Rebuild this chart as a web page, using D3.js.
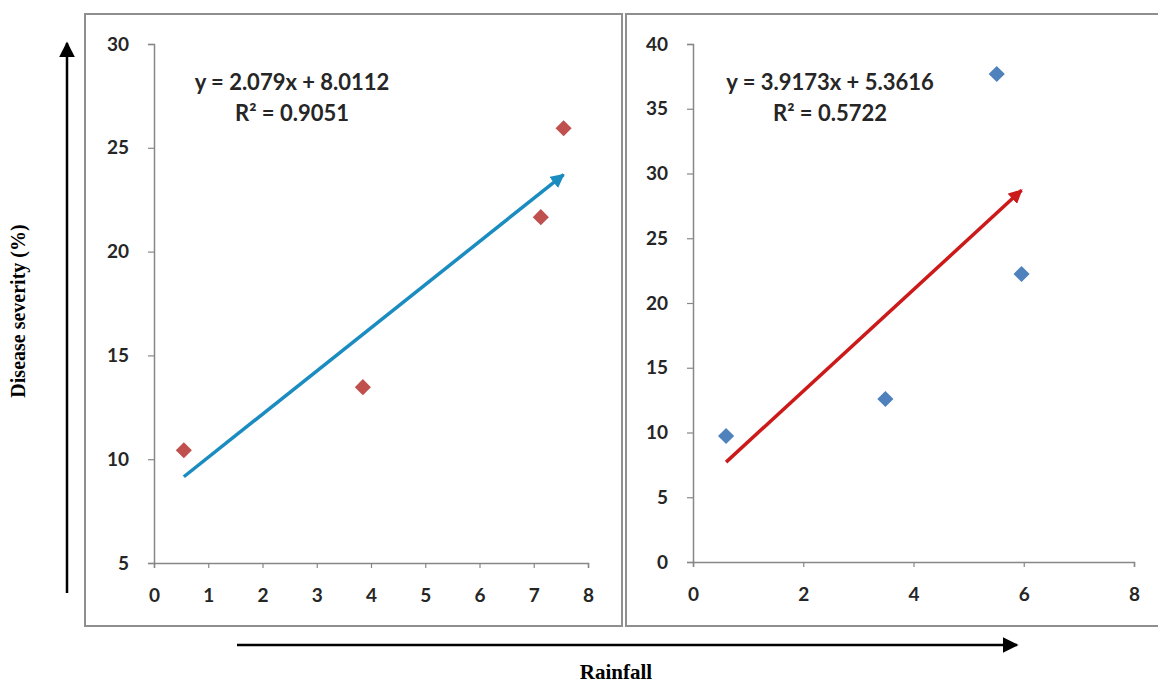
<!DOCTYPE html>
<html>
<head>
<meta charset="utf-8">
<script src="https://cdn.jsdelivr.net/npm/d3@7"></script>
<style>
  body { margin: 0; background: #fff; }
  .tick text { font-family: Lato, "Open Sans", sans-serif; font-weight: 700; font-size: 19px; fill: #262626; }
  .eq { font-family: Lato, "Open Sans", sans-serif; font-weight: 700; font-size: 22px; fill: #262626; }
  .ttl { font-family: "Liberation Serif", "Times New Roman", serif; font-weight: 700; font-size: 20px; fill: #000; }
</style>
</head>
<body>
<div id="canvas"></div>
<script>
// left panel data (rainfall vs disease severity)
var leftRain = [0.55, 3.85, 7.13, 7.55];
var leftSeverity = [10.43, 13.47, 21.66, 25.94];
var leftXTicks = [0, 1, 2, 3, 4, 5, 6, 7, 8];
var leftYTicks = [5, 10, 15, 20, 25, 30];
var leftFit = [2.079, 8.0112]; // slope, intercept
var leftLabels = ["y = 2.079x + 8.0112", "R\u00B2 = 0.9051"];

// right panel data
var rightRain = [0.6, 3.49, 5.51, 5.96];
var rightSeverity = [9.73, 12.59, 37.68, 22.24];
var rightXTicks = [0, 2, 4, 6, 8];
var rightYTicks = [0, 5, 10, 15, 20, 25, 30, 35, 40];
var rightFit = [3.9173, 5.3616];
var rightLabels = ["y = 3.9173x + 5.3616", "R\u00B2 = 0.5722"];

var yTitle = "Disease severity (%)";
var xTitle = "Rainfall";

var svg = d3.select("#canvas").append("svg")
    .attr("width", 1158)
    .attr("height", 686);

var defs = svg.append("defs");

// arrowheads for the trend lines and the big axis arrows
MakeArrow = function(id, color, size) {
    defs.append("marker")
        .attr("id", id)
        .attr("markerUnits", "userSpaceOnUse")
        .attr("viewBox", "0 0 10 10")
        .attr("refX", 9)
        .attr("refY", 5)
        .attr("markerWidth", size)
        .attr("markerHeight", size)
        .attr("orient", "auto")
        .append("path")
        .attr("d", "M0,0 L10,5 L0,10 Z")
        .attr("fill", color);
}
MakeArrow("arrowBlue", "#1a8cc0", 14);
MakeArrow("arrowRed", "#cc1a1a", 14);
MakeArrow("arrowBlack", "#000", 16);

// panel frames
svg.append("rect").attr("x", 85).attr("y", 14).attr("width", 537).attr("height", 612)
    .attr("fill", "none").attr("stroke", "#8f8f8f").attr("stroke-width", 2);
svg.append("rect").attr("x", 626).attr("y", 14).attr("width", 540).attr("height", 612)
    .attr("fill", "none").attr("stroke", "#8f8f8f").attr("stroke-width", 2);

DrawPanel = function(opts) {
    var x = d3.scaleLinear().domain(opts.xDomain).range(opts.xRange);
    var y = d3.scaleLinear().domain(opts.yDomain).range(opts.yRange);
    var g = svg.append("g");

    var yAxis = g.append("g")
        .attr("transform", "translate(" + opts.xRange[0] + ",0)")
        .call(d3.axisLeft(y).tickValues(opts.yTicks).tickSize(6).tickPadding(19).tickFormat(d3.format("d")));
    var xAxis = g.append("g")
        .attr("transform", "translate(0," + opts.yRange[0] + ")")
        .call(d3.axisBottom(x).tickValues(opts.xTicks).tickSize(5).tickPadding(21).tickFormat(d3.format("d")));

    [xAxis, yAxis].forEach(function(a) {
        a.select(".domain").attr("stroke", "#878787").attr("stroke-width", 1.5);
        a.selectAll(".tick line").attr("stroke", "#878787").attr("stroke-width", 1.2);
    });

    // trend line from min x to max x
    var x0 = d3.min(opts.xs), x1 = d3.max(opts.xs);
    g.append("line")
        .attr("x1", x(x0)).attr("y1", y(opts.fit[0] * x0 + opts.fit[1]))
        .attr("x2", x(x1)).attr("y2", y(opts.fit[0] * x1 + opts.fit[1]))
        .attr("stroke", opts.lineColor)
        .attr("stroke-width", 3.5)
        .attr("marker-end", "url(#" + opts.arrowId + ")");

    var pts = opts.xs.map(function(d, i) { return [d, opts.ys[i]]; });
    g.selectAll("path.pt").data(pts).enter().append("path")
        .attr("class", "pt")
        .attr("d", d3.symbol().type(d3.symbolSquare).size(130))
        .attr("transform", function(d) { return "translate(" + x(d[0]) + "," + y(d[1]) + ") rotate(45)"; })
        .attr("fill", opts.dotColor);

    g.selectAll("text.eq").data(opts.labels).enter().append("text")
        .attr("class", "eq")
        .attr("x", opts.labelX)
        .attr("y", function(d, i) { return opts.labelY + i * 31; })
        .attr("text-anchor", "middle")
        .text(function(d) { return d; });
}

DrawPanel({
    xs: leftRain, ys: leftSeverity,
    xDomain: [0, 8], xRange: [154, 588],
    yDomain: [5, 30], yRange: [563, 44],
    xTicks: leftXTicks, yTicks: leftYTicks,
    fit: leftFit, labels: leftLabels,
    lineColor: "#1a8cc0", arrowId: "arrowBlue", dotColor: "#c0504d",
    labelX: 292, labelY: 90
});

DrawPanel({
    xs: rightRain, ys: rightSeverity,
    xDomain: [0, 8], xRange: [693, 1134],
    yDomain: [0, 40], yRange: [562, 44],
    xTicks: rightXTicks, yTicks: rightYTicks,
    fit: rightFit, labels: rightLabels,
    lineColor: "#cc1a1a", arrowId: "arrowRed", dotColor: "#4f81bd",
    labelX: 830, labelY: 90
});

// big axis arrows and titles
svg.append("line").attr("x1", 67).attr("y1", 593).attr("x2", 67).attr("y2", 43)
    .attr("stroke", "#000").attr("stroke-width", 2.5).attr("marker-end", "url(#arrowBlack)");
svg.append("line").attr("x1", 237).attr("y1", 645).attr("x2", 1017).attr("y2", 645)
    .attr("stroke", "#000").attr("stroke-width", 2.5).attr("marker-end", "url(#arrowBlack)");

svg.append("text").attr("class", "ttl")
    .attr("transform", "translate(25,311) rotate(-90)")
    .attr("text-anchor", "middle")
    .text(yTitle);
svg.append("text").attr("class", "ttl")
    .attr("x", 616).attr("y", 679)
    .attr("text-anchor", "middle")
    .style("font-size", "21px")
    .text(xTitle);
</script>
</body>
</html>
